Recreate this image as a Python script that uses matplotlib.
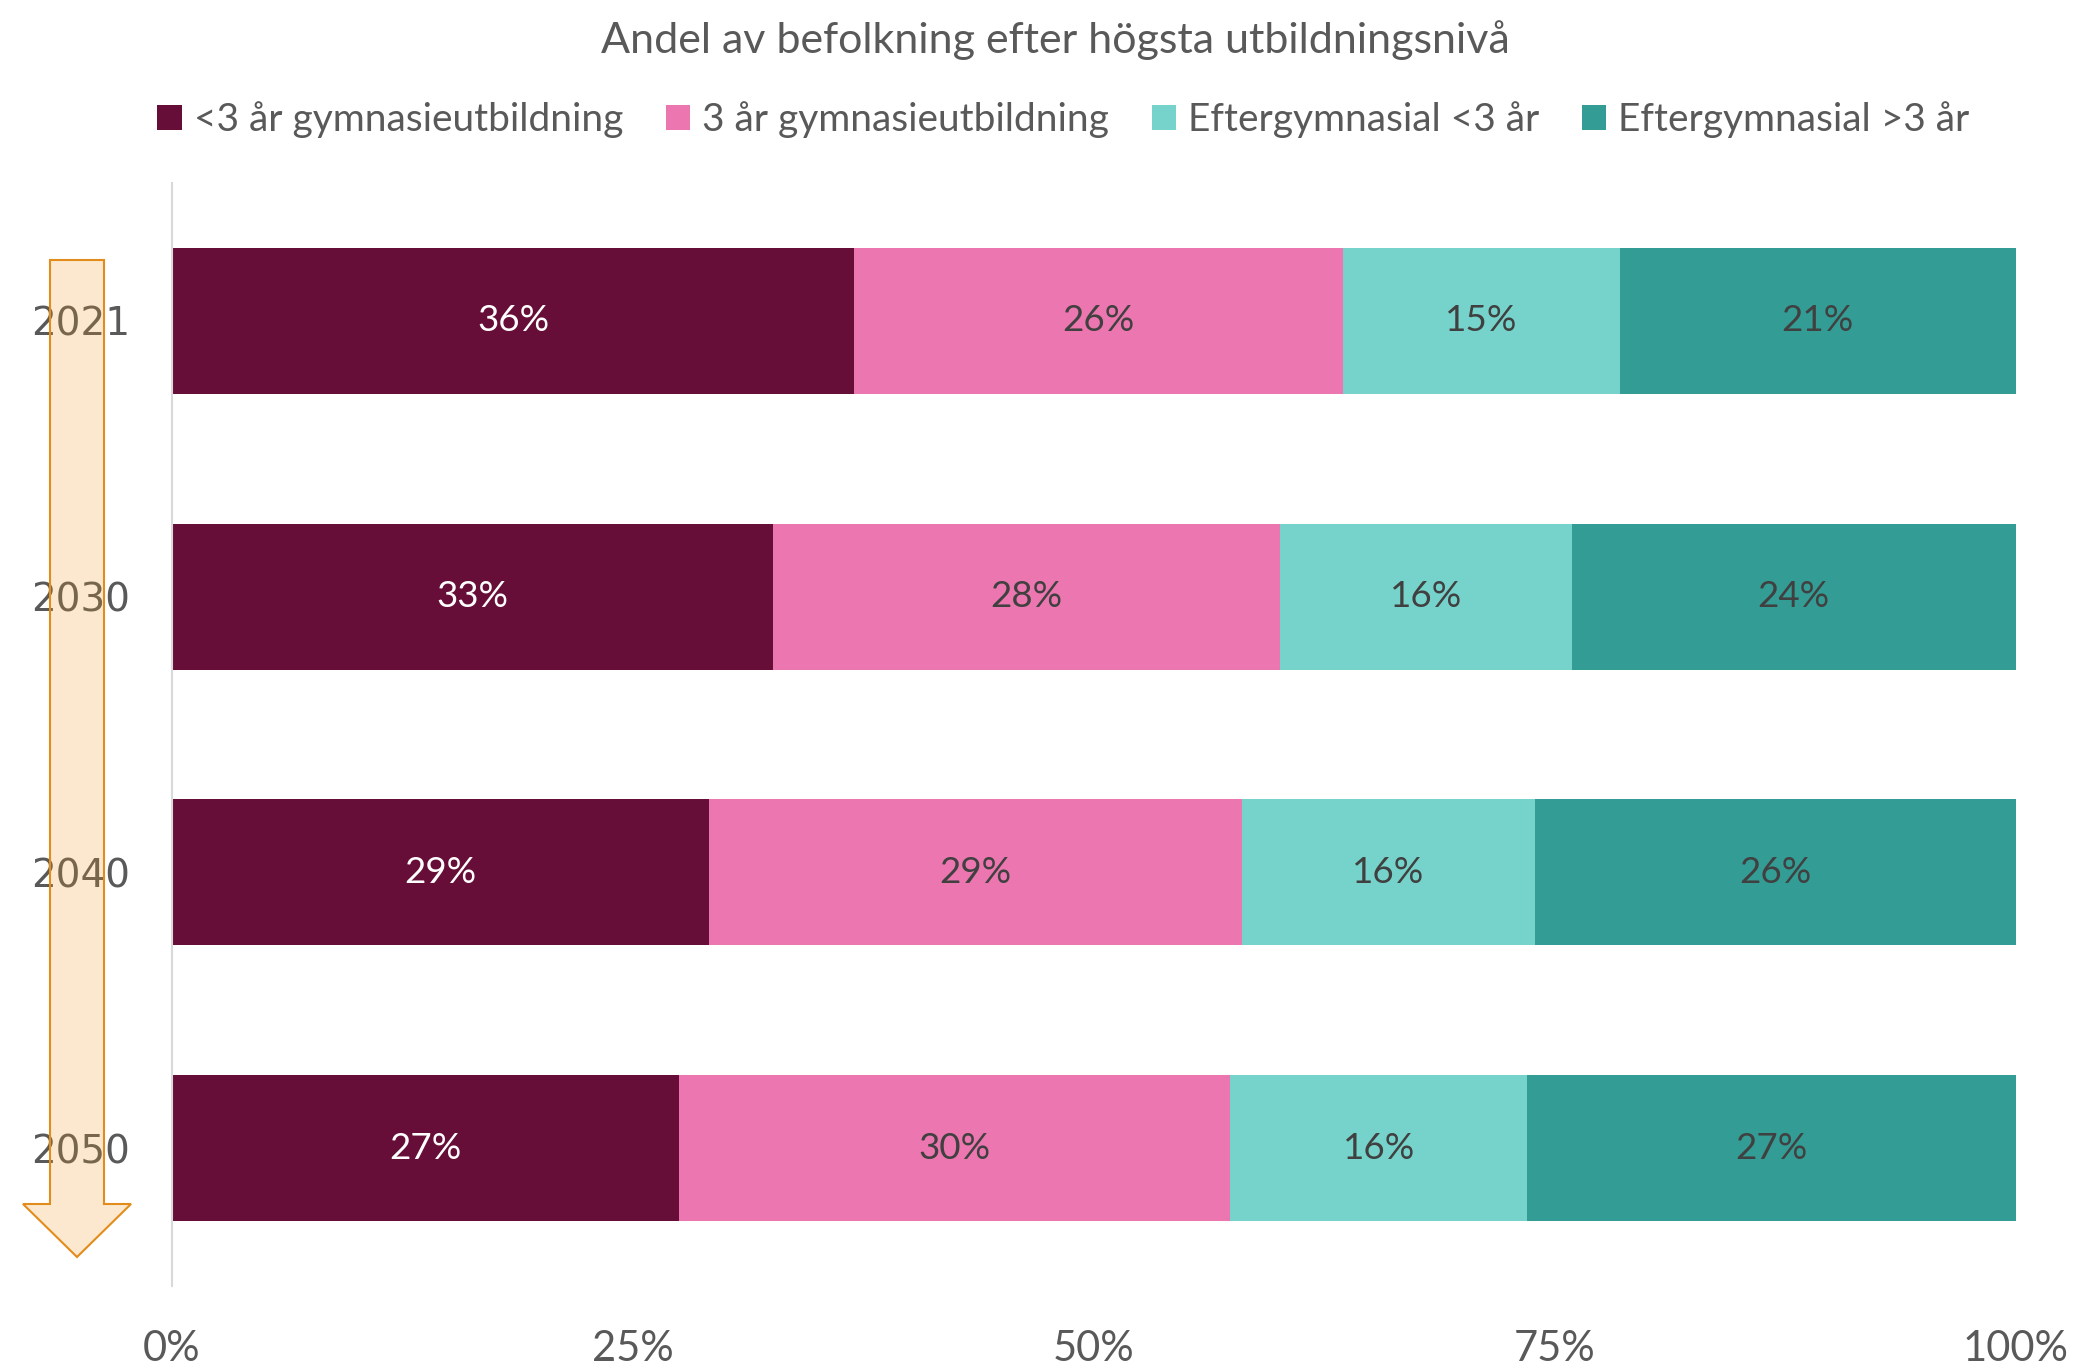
import matplotlib
matplotlib.use("Agg")
import matplotlib.pyplot as plt
from matplotlib.patches import Polygon
from matplotlib.ticker import FuncFormatter

plt.rcParams['font.family'] = ['Lato', 'DejaVu Sans']

# ---- data ----
years = ['2021', '2030', '2040', '2050']
series_names = ['<3 år gymnasieutbildning', '3 år gymnasieutbildning',
                'Eftergymnasial <3 år', 'Eftergymnasial >3 år']
under3 = [37.0, 32.6, 29.1, 27.5]
gym3 = [26.5, 27.5, 28.9, 29.9]
post_lt3 = [15.0, 15.8, 15.9, 16.1]
post_gt3 = [21.5, 24.1, 26.1, 26.5]
lbl_under3 = [36, 33, 29, 27]
lbl_gym3 = [26, 28, 29, 30]
lbl_post_lt3 = [15, 16, 16, 16]
lbl_post_gt3 = [21, 24, 26, 27]
x_ticks = [0, 25, 50, 75, 100]

colors = ['#660E38', '#EC76AF', '#76D3CB', '#339C94']
label_colors = ['white', '#404040', '#404040', '#404040']

W, H = 2074, 1367
fig = plt.figure(figsize=(W / 100, H / 100), dpi=100)
ax = fig.add_axes([172 / W, 1 - 1286 / H, (2016 - 172) / W, (1286 - 183) / H])

series = [under3, gym3, post_lt3, post_gt3]
labels = [lbl_under3, lbl_gym3, lbl_post_lt3, lbl_post_gt3]
ypos = list(range(len(years)))
left = [0.0] * len(years)
for vals, lbls, c, lc, name in zip(series, labels, colors, label_colors, series_names):
    bars = ax.barh(ypos, vals, left=left, height=0.53, color=c, label=name,
                   edgecolor='none')
    ax.bar_label(bars, labels=[f'{v}%' for v in lbls], label_type='center',
                 color=lc, fontsize=26.5)
    left = [l + v for l, v in zip(left, vals)]

ax.set_xlim(0, 100)
ax.set_ylim(3.5, -0.5)
ax.set_xticks(x_ticks)
ax.xaxis.set_major_formatter(FuncFormatter(lambda v, p: f'{int(v)}%'))
ax.set_yticks(ypos)
ax.set_yticklabels(years, fontfamily='DejaVu Sans', fontsize=28, color='#595959')
ax.tick_params(axis='x', length=0, pad=32, labelsize=30, labelcolor='#595959')
ax.tick_params(axis='y', length=0, pad=30)
for s in ['top', 'right', 'bottom']:
    ax.spines[s].set_visible(False)
ax.spines['left'].set_color('#D9D9D9')
ax.spines['left'].set_linewidth(1.5)

fig.text(0.509, 1 - 40 / H, 'Andel av befolkning efter högsta utbildningsnivå',
         ha='center', va='center', fontsize=31, color='#595959')

fig.legend(loc='center', bbox_to_anchor=(0.5127, 1 - 120 / H), ncol=4,
           frameon=False, fontsize=28, labelcolor='#595959',
           handlelength=0.63, handleheight=0.63, handletextpad=0.3,
           columnspacing=1.1)

# decorative arrow along the year axis
pts_px = [(50, 260), (104, 260), (104, 1204), (131, 1204), (77, 1257),
          (23, 1204), (50, 1204)]
pts = [(x / W, 1 - y / H) for x, y in pts_px]
fig.add_artist(Polygon(pts, closed=True, transform=fig.transFigure,
                       facecolor=(237 / 255, 151 / 255, 32 / 255, 0.21),
                       edgecolor='#E28C1B', linewidth=1.5, zorder=10))

fig.savefig('out.png', dpi=100)
